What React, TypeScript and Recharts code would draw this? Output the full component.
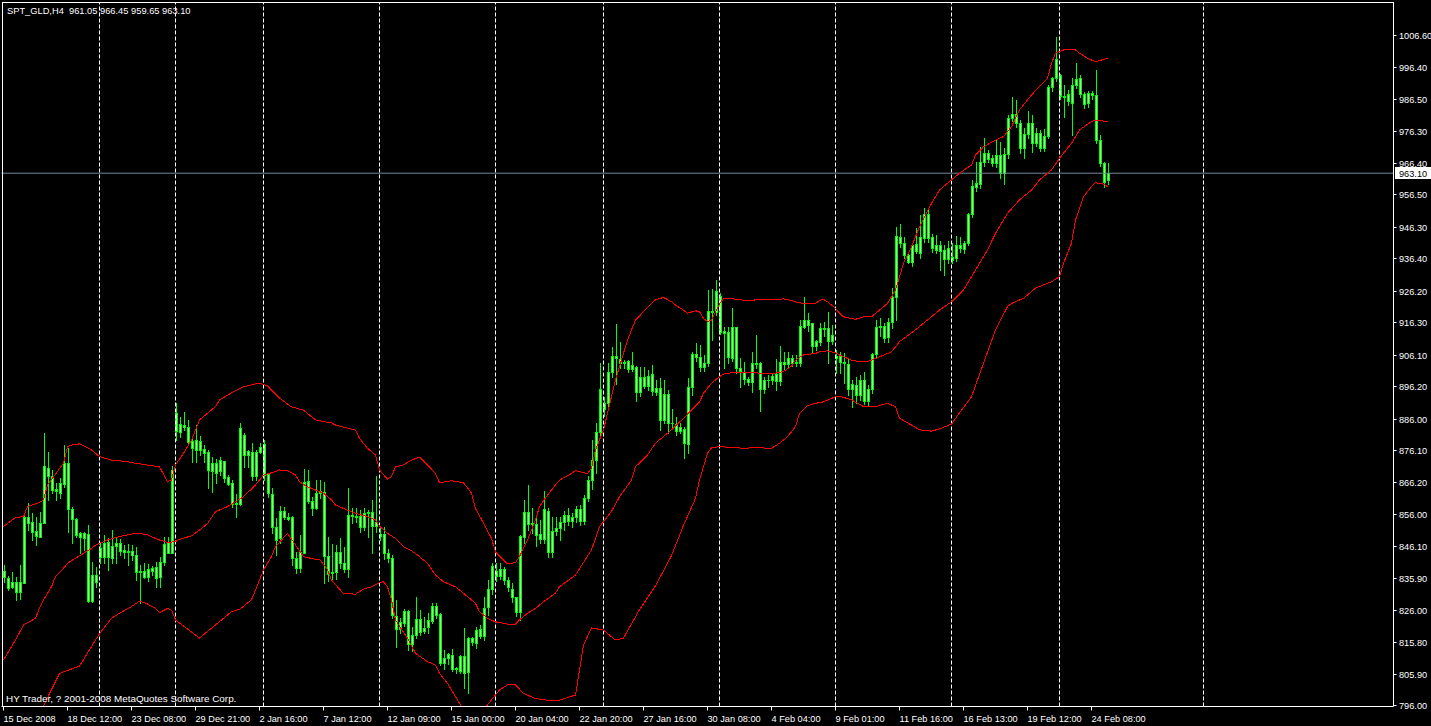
import { ComposedChart, Bar, Line, XAxis, YAxis, ReferenceLine } from 'recharts';

const symbol = 'SPT_GLD,H4';
const footer = 'HY Trader, ? 2001-2008 MetaQuotes Software Corp.';

// H4 candles, left to right
const opens = [
  838.2, 835.9, 833.0, 834.8, 831.5, 834.5, 855.2, 853.7, 850.7, 849.0,
  853.3, 870.4, 868.0, 864.0, 862.8, 865.5, 872.0, 857.5, 854.5, 849.0,
  850.0, 849.7, 828.8, 836.9, 842.7, 846.9, 842.7, 846.0, 846.1, 846.9,
  844.7, 844.2, 844.4, 843.2, 838.0, 838.3, 836.4, 838.3, 839.3, 836.4,
  840.9, 847.3, 843.9, 882.2, 884.3, 883.3, 883.5, 879.1, 876.2, 879.1,
  876.6, 875.6, 869.7, 872.0, 869.5, 872.7, 867.8, 865.7, 859.1, 859.2,
  880.9, 874.5, 875.6, 868.1, 875.4, 878.1, 868.6, 862.3, 852.1, 848.4,
  857.0, 855.2, 855.2, 842.1, 839.2, 843.9, 866.4, 860.2, 857.8, 862.6,
  863.1, 842.9, 837.4, 837.9, 844.0, 840.8, 838.7, 855.8, 855.4, 855.4,
  852.1, 856.3, 856.6, 852.4, 849.7, 849.7, 843.7, 842.4, 824.0, 819.8,
  821.9, 825.6, 815.2, 818.1, 823.1, 819.4, 820.5, 822.6, 827.2, 824.7,
  809.2, 810.7, 811.8, 807.3, 806.9, 811.5, 806.5, 817.0, 815.7, 819.8,
  817.9, 827.0, 832.4, 838.2, 836.7, 838.8, 835.3, 832.5, 829.9, 825.4,
  848.7, 856.7, 852.8, 852.8, 849.7, 848.2, 857.0, 844.2, 850.7, 851.6,
  853.5, 855.8, 853.8, 855.2, 857.5, 853.8, 861.0, 866.7, 873.0, 881.9,
  890.8, 891.0, 900.8, 905.7, 904.9, 903.4, 904.1, 901.7, 902.3, 894.5,
  899.0, 896.3, 899.9, 894.5, 895.5, 885.6, 893.6, 884.5, 884.3, 882.2,
  882.9, 877.9, 895.9, 906.2, 905.5, 902.1, 903.4, 919.9, 919.4, 924.5,
  913.5, 913.3, 905.0, 914.7, 901.8, 900.8, 898.4, 897.6, 903.4, 903.4,
  895.2, 898.2, 898.0, 900.0, 897.8, 903.7, 903.1, 905.0, 903.6, 903.4,
  914.9, 917.0, 915.9, 908.9, 910.2, 914.1, 914.4, 910.5, 905.7, 905.7,
  903.9, 903.1, 895.2, 896.6, 893.4, 898.2, 891.7, 895.2, 906.2, 914.9,
  915.1, 911.5, 916.3, 924.3, 943.2, 941.1, 937.4, 935.3, 940.8, 938.1,
  942.7, 950.3, 943.0, 939.0, 940.5, 938.9, 936.0, 936.7, 936.6, 940.5,
  939.3, 941.1, 950.2, 958.9, 959.7, 966.7, 969.3, 967.8, 966.2, 968.8,
  963.3, 969.0, 980.5, 981.6, 978.8, 970.9, 975.4, 979.0, 972.5, 975.8,
  970.9, 974.9, 990.1, 992.9, 993.9, 987.4, 987.9, 985.3, 990.8, 992.9,
  987.9, 985.1, 988.4, 987.6, 973.5, 966.4, 961.05,
];
const highs = [
  840.0, 836.6, 838.0, 836.4, 840.0, 856.3, 859.6, 856.5, 855.2, 856.8,
  881.6, 875.6, 869.9, 865.9, 867.3, 877.7, 876.7, 858.4, 854.7, 850.5,
  850.5, 852.6, 840.9, 839.5, 846.9, 849.5, 848.4, 851.0, 848.4, 848.1,
  846.3, 846.6, 846.3, 845.8, 840.0, 840.6, 840.4, 839.8, 840.9, 842.7,
  849.0, 849.0, 871.1, 890.8, 886.6, 888.1, 885.6, 880.6, 884.0, 880.6,
  877.7, 876.2, 874.1, 873.2, 873.9, 872.8, 868.3, 866.7, 862.3, 884.5,
  881.4, 876.2, 878.3, 876.2, 878.3, 879.3, 868.8, 864.1, 854.7, 858.6,
  858.2, 856.3, 855.4, 844.2, 849.5, 870.1, 869.9, 861.5, 866.7, 866.7,
  866.2, 848.9, 846.6, 846.3, 848.4, 845.8, 864.1, 857.8, 858.0, 857.3,
  857.8, 857.3, 860.5, 868.0, 852.1, 852.1, 845.0, 843.2, 829.1, 823.3,
  826.2, 825.9, 820.7, 830.1, 825.9, 823.8, 825.1, 828.2, 828.0, 825.1,
  813.4, 812.5, 813.6, 808.1, 811.8, 820.2, 817.5, 817.5, 820.7, 821.2,
  830.1, 835.3, 840.6, 840.6, 840.6, 839.5, 836.4, 834.3, 830.1, 849.5,
  860.5, 865.2, 857.8, 855.2, 854.2, 863.3, 857.8, 855.2, 855.2, 855.0,
  857.0, 858.0, 856.5, 858.5, 859.0, 862.0, 868.0, 879.3, 884.5, 903.4,
  892.9, 903.4, 908.6, 915.6, 910.2, 904.4, 904.4, 906.9, 902.5, 902.3,
  902.1, 901.3, 902.9, 898.2, 898.7, 898.2, 895.0, 889.2, 886.6, 884.5,
  883.5, 898.7, 907.0, 909.7, 909.2, 906.0, 926.4, 926.6, 929.5, 925.4,
  914.9, 914.9, 920.7, 914.9, 905.0, 903.9, 899.2, 907.0, 912.3, 903.9,
  899.2, 899.7, 900.2, 904.6, 908.8, 907.0, 907.0, 906.0, 906.0, 917.0,
  924.3, 919.1, 916.0, 910.7, 916.2, 916.5, 919.6, 915.4, 907.6, 907.0,
  906.5, 904.9, 898.2, 899.2, 899.7, 900.8, 896.6, 906.5, 917.0, 917.5,
  915.9, 917.5, 926.9, 946.3, 947.1, 943.0, 938.5, 941.1, 945.8, 950.0,
  952.1, 951.5, 944.0, 943.7, 941.9, 940.5, 941.9, 941.1, 943.4, 943.2,
  941.9, 950.7, 961.0, 966.7, 971.4, 974.0, 970.4, 968.8, 973.5, 973.0,
  970.9, 981.4, 987.1, 986.1, 979.8, 977.2, 982.7, 981.4, 977.2, 976.7,
  976.9, 990.8, 993.4, 1005.8, 994.1, 990.8, 989.2, 992.9, 997.6, 993.9,
  988.7, 988.9, 988.9, 995.5, 975.1, 966.7, 966.45,
];
const lows = [
  834.8, 832.2, 832.7, 829.1, 829.3, 834.3, 851.0, 847.9, 846.3, 849.0,
  853.1, 860.5, 862.6, 860.5, 861.0, 864.6, 850.5, 846.9, 849.0, 843.7,
  844.8, 828.5, 828.5, 833.2, 840.6, 840.6, 838.5, 840.6, 840.6, 843.2,
  842.1, 840.0, 841.6, 835.3, 828.0, 835.9, 835.1, 836.9, 833.2, 833.2,
  840.0, 843.7, 843.7, 879.3, 880.4, 882.4, 877.7, 872.5, 872.5, 874.6,
  872.5, 864.1, 863.1, 865.7, 868.3, 866.2, 865.2, 858.4, 855.2, 858.9,
  870.9, 870.9, 866.7, 866.7, 875.1, 866.7, 861.5, 850.0, 843.2, 846.9,
  854.5, 854.2, 840.0, 837.6, 837.9, 843.7, 859.5, 855.7, 857.5, 861.0,
  834.5, 835.0, 835.5, 835.5, 839.0, 838.0, 836.4, 853.1, 853.5, 850.5,
  851.0, 849.0, 843.7, 850.5, 848.0, 842.0, 841.0, 823.5, 814.2, 818.6,
  820.8, 813.3, 813.1, 817.0, 818.0, 818.6, 818.6, 821.7, 823.5, 808.6,
  807.4, 809.0, 806.7, 806.0, 806.0, 801.3, 799.9, 815.0, 813.9, 817.0,
  816.5, 824.3, 831.0, 835.1, 835.8, 834.0, 832.0, 828.5, 824.0, 822.8,
  847.0, 851.0, 850.0, 846.0, 847.0, 847.0, 842.7, 842.7, 849.5, 848.0,
  851.0, 852.5, 852.0, 853.5, 852.5, 853.0, 860.0, 864.0, 868.8, 880.0,
  887.0, 889.0, 899.0, 896.9, 901.8, 901.8, 900.8, 901.0, 891.4, 893.0,
  895.5, 895.0, 893.5, 893.5, 882.4, 884.5, 881.5, 883.5, 881.0, 881.5,
  873.5, 875.1, 893.4, 904.0, 901.0, 901.0, 902.5, 910.7, 918.5, 912.5,
  901.8, 903.5, 904.0, 900.5, 896.1, 897.0, 896.6, 894.5, 902.0, 888.5,
  894.0, 895.8, 897.0, 895.0, 896.5, 901.5, 902.0, 902.5, 902.5, 902.5,
  914.4, 913.5, 907.0, 907.6, 909.0, 912.0, 903.4, 909.5, 900.2, 900.2,
  897.1, 893.4, 889.8, 891.0, 892.0, 890.5, 890.3, 894.0, 905.0, 911.9,
  910.2, 910.2, 914.4, 917.0, 940.0, 936.5, 934.8, 934.0, 938.0, 936.4,
  941.5, 941.5, 938.5, 938.0, 932.7, 931.1, 935.0, 935.0, 935.5, 938.5,
  937.9, 940.5, 949.5, 957.5, 958.5, 965.5, 966.5, 965.5, 965.0, 961.5,
  959.7, 968.0, 979.5, 977.5, 969.5, 967.8, 974.0, 969.9, 971.5, 970.0,
  970.0, 974.0, 989.0, 992.0, 986.5, 980.6, 984.5, 975.1, 990.0, 987.0,
  983.5, 984.0, 986.5, 972.5, 965.5, 958.9, 959.65,
];
const closes = [
  836.4, 832.7, 834.8, 831.5, 834.8, 855.2, 853.3, 850.5, 849.2, 853.1,
  871.1, 868.0, 863.6, 863.2, 865.7, 872.0, 857.5, 854.4, 849.5, 850.2,
  848.6, 828.8, 836.9, 834.8, 845.5, 842.7, 847.2, 842.1, 846.9, 844.5,
  844.2, 844.5, 843.2, 838.0, 838.2, 836.4, 838.7, 839.2, 836.1, 840.9,
  846.6, 843.9, 869.9, 887.9, 881.9, 884.0, 878.8, 876.7, 879.3, 876.2,
  875.1, 869.9, 872.0, 869.0, 873.0, 867.3, 865.4, 859.2, 859.4, 883.0,
  874.6, 875.9, 868.1, 875.6, 877.2, 868.4, 862.8, 852.1, 848.0, 857.0,
  855.2, 854.6, 842.1, 839.2, 844.0, 866.2, 860.2, 857.8, 862.6, 863.3,
  842.9, 837.2, 837.9, 844.0, 840.8, 838.7, 855.8, 855.5, 855.2, 852.1,
  856.3, 856.6, 852.4, 853.4, 849.1, 843.7, 842.1, 824.3, 819.8, 822.2,
  825.6, 815.2, 818.1, 823.1, 819.1, 820.2, 822.8, 827.3, 824.3, 809.2,
  810.7, 812.1, 807.3, 807.6, 811.5, 806.2, 817.0, 815.9, 819.6, 817.9,
  826.7, 832.4, 839.7, 836.7, 838.8, 835.3, 833.2, 829.9, 825.4, 849.2,
  856.7, 852.8, 853.1, 849.5, 848.2, 857.5, 844.2, 850.7, 851.6, 853.5,
  855.8, 853.8, 855.2, 857.5, 853.8, 861.0, 866.7, 873.0, 881.9, 895.2,
  889.2, 900.8, 905.7, 905.0, 903.4, 903.9, 901.7, 902.8, 894.5, 899.0,
  896.3, 899.5, 894.7, 895.5, 885.6, 893.6, 884.5, 884.7, 882.2, 883.3,
  878.3, 895.9, 906.2, 905.5, 902.1, 903.4, 919.9, 919.4, 926.2, 913.3,
  913.0, 905.3, 914.7, 901.8, 901.1, 898.4, 897.6, 903.4, 903.1, 895.2,
  898.2, 898.0, 899.5, 897.8, 903.7, 903.1, 905.0, 903.6, 903.9, 915.1,
  917.0, 915.4, 908.9, 910.4, 914.4, 914.4, 910.5, 912.3, 905.0, 903.9,
  903.4, 895.2, 896.8, 893.4, 898.2, 891.7, 895.2, 906.2, 914.9, 915.1,
  911.2, 916.3, 924.3, 943.4, 941.1, 937.4, 935.3, 940.5, 938.8, 943.2,
  950.3, 942.7, 939.5, 940.5, 938.8, 936.0, 939.5, 935.8, 940.5, 939.5,
  941.1, 950.2, 959.1, 960.1, 966.7, 969.3, 967.7, 966.4, 968.8, 963.3,
  969.0, 980.5, 981.6, 978.8, 970.9, 975.4, 979.0, 972.5, 975.8, 970.9,
  974.8, 990.1, 992.9, 998.9, 987.4, 987.1, 985.8, 990.8, 992.6, 987.9,
  984.8, 988.4, 987.7, 973.5, 966.4, 960.4, 963.10,
];

// Bollinger bands: [bar index, price]
const upperBand: [number, number][] = [
  [0, 852.1], [3, 855.0], [5, 855.2], [6, 858.4], [9, 859.7], [10, 860.5], [11, 865.2], [15, 872.0],
  [16, 877.2], [17, 877.7], [19, 878.1], [22, 876.2], [24, 874.1], [27, 873.0], [31, 872.5], [33, 872.0],
  [39, 870.9], [41, 866.2], [42, 866.7], [43, 871.5], [45, 875.1], [47, 879.3], [49, 885.6], [53, 889.8],
  [54, 891.9], [57, 894.1], [60, 896.0], [64, 897.2], [66, 896.3], [69, 892.5], [72, 889.7], [75, 888.7],
  [78, 885.6], [80, 885.1], [82, 884.7], [83, 884.0], [86, 883.0], [88, 882.4], [89, 879.8], [91, 876.7],
  [93, 874.6], [94, 869.9], [96, 867.0], [97, 867.8], [98, 870.9], [100, 871.5], [102, 873.0], [104, 873.9],
  [106, 871.5], [108, 868.8], [109, 865.9], [112, 866.5], [115, 865.9], [117, 862.6], [118, 857.8], [120, 853.2],
  [122, 848.4], [123, 844.2], [125, 841.6], [126, 840.4], [128, 840.8], [129, 842.7], [131, 847.9], [133, 854.2],
  [134, 858.4], [136, 862.0], [138, 865.2], [139, 866.7], [142, 868.8], [143, 869.7], [145, 869.0], [146, 868.8],
  [147, 870.4], [148, 876.2], [150, 882.5], [151, 887.7], [153, 898.2], [156, 910.7], [157, 913.9], [158, 917.0],
  [160, 919.6], [162, 922.2], [163, 923.3], [165, 924.1], [167, 922.7], [168, 921.7], [170, 920.1], [171, 919.1],
  [173, 919.9], [174, 919.6], [175, 917.5], [176, 916.5], [177, 917.0], [178, 919.5], [179, 922.0], [180, 923.8],
  [182, 923.8], [183, 923.5], [186, 923.1], [188, 923.3], [192, 923.5], [195, 923.6], [197, 923.1], [198, 922.7],
  [200, 922.2], [203, 922.2], [204, 923.1], [205, 923.5], [206, 922.7], [208, 920.7], [209, 919.1], [210, 918.0],
  [213, 917.2], [215, 918.0], [217, 918.0], [219, 920.1], [221, 922.2], [223, 926.4], [224, 930.6], [225, 934.8],
  [227, 940.0], [229, 946.3], [232, 953.6], [234, 957.8], [237, 961.0], [239, 963.1], [242, 965.7], [243, 968.8],
  [245, 971.4], [248, 973.5], [250, 974.6], [252, 977.7], [254, 983.0], [257, 987.7], [259, 990.3], [261, 992.9],
  [262, 997.6], [263, 1000.8], [265, 1001.8], [268, 1001.8], [269, 1000.8], [271, 999.2], [273, 998.1], [276, 999.2],
];
const middleBand: [number, number][] = [
  [0, 810.2], [3, 816.5], [5, 821.2], [8, 823.3], [9, 826.5], [10, 829.1], [12, 833.2], [13, 836.4],
  [15, 839.0], [16, 840.6], [18, 842.2], [20, 843.7], [22, 845.3], [23, 846.3], [26, 847.9], [28, 848.7],
  [31, 849.5], [33, 850.0], [34, 850.0], [36, 849.5], [38, 848.4], [39, 847.9], [41, 847.1], [43, 847.4],
  [44, 848.1], [47, 849.2], [49, 851.0], [51, 853.1], [53, 856.8], [56, 858.4], [58, 859.9], [60, 861.5],
  [63, 865.2], [65, 868.3], [68, 869.4], [69, 869.9], [71, 869.7], [73, 868.3], [74, 866.2], [76, 864.6],
  [78, 863.6], [80, 862.6], [82, 860.5], [83, 858.9], [86, 857.3], [88, 856.3], [91, 855.2], [93, 854.2],
  [94, 852.3], [96, 850.0], [98, 848.4], [100, 845.8], [102, 844.5], [103, 843.7], [106, 840.6], [108, 836.9],
  [110, 834.8], [113, 833.2], [115, 831.2], [118, 828.0], [119, 825.4], [121, 823.3], [123, 822.2], [126, 821.5],
  [128, 821.5], [129, 822.8], [131, 824.9], [133, 826.4], [135, 828.5], [138, 831.2], [139, 833.2], [143, 836.9],
  [147, 844.8], [149, 852.0], [152, 856.9], [154, 861.5], [157, 866.7], [158, 870.9], [161, 874.6], [163, 878.3],
  [167, 882.5], [170, 886.1], [172, 888.7], [174, 891.3], [175, 894.0], [177, 897.1], [179, 899.2], [180, 900.0],
  [182, 900.4], [187, 900.4], [190, 900.3], [193, 900.3], [195, 900.8], [197, 902.5], [198, 904.4], [200, 906.0],
  [203, 906.5], [204, 907.0], [206, 907.3], [208, 906.7], [209, 906.0], [212, 904.4], [214, 903.9], [216, 903.9],
  [218, 904.9], [222, 907.0], [224, 910.2], [228, 913.9], [231, 917.0], [234, 920.1], [237, 922.7], [240, 926.4],
  [243, 932.7], [246, 939.0], [248, 944.2], [251, 950.5], [254, 954.7], [257, 957.8], [259, 961.0], [262, 964.1],
  [264, 967.8], [267, 972.5], [269, 976.7], [272, 979.3], [273, 979.8], [276, 979.3],
];
const lowerBand: [number, number][] = [
  [9, 793.3], [14, 806.0], [19, 808.3], [24, 818.5], [27, 823.3], [29, 824.9], [32, 827.0], [34, 828.7],
  [36, 827.8], [38, 826.4], [39, 825.1], [41, 826.4], [42, 825.9], [43, 822.8], [49, 817.1], [55, 823.3],
  [57, 825.4], [59, 826.1], [62, 829.1], [63, 832.2], [65, 838.5], [67, 842.7], [68, 845.8], [71, 850.0],
  [75, 842.7], [78, 841.8], [79, 841.8], [81, 838.7], [82, 835.3], [85, 831.1], [88, 830.9], [90, 832.5],
  [92, 833.2], [94, 834.5], [95, 834.8], [96, 833.2], [97, 829.1], [98, 822.8], [101, 817.0], [103, 812.3],
  [106, 809.7], [108, 808.6], [109, 806.0], [111, 802.9], [113, 798.7], [116, 792.5], [119, 793.0], [122, 797.7],
  [124, 800.8], [126, 802.4], [128, 802.4], [130, 799.7], [133, 798.1], [136, 797.6], [139, 797.6], [143, 799.2],
  [145, 814.9], [147, 820.3], [150, 819.6], [153, 816.5], [155, 817.1], [159, 826.0], [163, 833.5], [167, 843.0],
  [170, 852.5], [173, 861.0], [174, 866.7], [175, 870.9], [176, 875.1], [177, 876.9], [179, 877.2], [182, 877.0],
  [185, 876.7], [188, 876.9], [192, 876.7], [194, 878.3], [196, 880.3], [198, 883.5], [199, 887.7], [201, 890.1],
  [203, 890.8], [205, 891.3], [208, 892.9], [209, 893.1], [212, 891.9], [215, 889.8], [218, 889.8], [221, 890.8],
  [223, 889.8], [224, 886.1], [227, 884.0], [229, 882.5], [232, 882.1], [234, 882.8], [237, 884.3], [238, 886.1],
  [242, 892.9], [245, 903.4], [248, 913.9], [251, 921.2], [252, 922.2], [255, 923.8], [258, 927.0], [262, 929.0],
  [264, 930.6], [265, 934.8], [267, 941.1], [268, 948.4], [270, 955.7], [272, 958.9], [273, 960.1], [275, 959.7],
  [276, 958.9],
];

const xTickIdx = [0, 16, 32, 48, 64, 80, 96, 112, 128, 144, 160, 176, 192, 208, 224, 240, 256, 272];
const xTickLabels = [
  '15 Dec 2008', '18 Dec 12:00', '23 Dec 08:00', '29 Dec 21:00', '2 Jan 16:00', '7 Jan 12:00',
  '12 Jan 09:00', '15 Jan 00:00', '20 Jan 04:00', '22 Jan 20:00', '27 Jan 16:00', '30 Jan 08:00',
  '4 Feb 04:00', '9 Feb 01:00', '11 Feb 16:00', '16 Feb 13:00', '19 Feb 12:00', '24 Feb 08:00',
];
const yTicks = [
  1006.6, 996.4, 986.5, 976.3, 966.4, 956.5, 946.3, 936.4, 926.2, 916.3, 906.1,
  896.2, 886.0, 876.1, 866.2, 856.0, 846.1, 835.9, 826.0, 815.8, 805.9, 796.0,
];
const gridIdx = [24, 43, 65, 94, 123, 150, 179, 208, 237, 264, 300];
const totalSlots = 348; // candles plus the empty shift on the right

const GREEN = '#00ff00';
const BODY = '#9cff9c';
const FONT = "'Liberation Sans', Arial, sans-serif";

const toMap = (arr: [number, number][]) => new Map(arr);
const upMap = toMap(upperBand);
const midMap = toMap(middleBand);
const lowMap = toMap(lowerBand);

const data = Array.from({ length: totalSlots }, (_, i) => {
  const has = i < opens.length;
  return {
    i,
    range: has ? [lows[i], highs[i]] : null,
    o: has ? opens[i] : null,
    h: has ? highs[i] : null,
    l: has ? lows[i] : null,
    c: has ? closes[i] : null,
    upper: upMap.get(i) ?? null,
    middle: midMap.get(i) ?? null,
    lower: lowMap.get(i) ?? null,
  };
});

const last = opens.length - 1;
const lastClose = closes[last];

const Candle = (props: any) => {
  const { x, y, width, height, payload } = props;
  if (!payload || payload.o == null) return null;
  const { o, h, l, c } = payload;
  const top = Math.min(y, y + height);
  const bot = Math.max(y, y + height);
  const span = h - l;
  const py = (v: number) => (span > 0 ? top + ((h - v) / span) * (bot - top) : top);
  const cx = Math.floor(x + width / 2) + 0.5;
  const bTop = Math.round(py(Math.max(o, c))) + 0.5;
  const bBot = Math.round(py(Math.min(o, c))) + 0.5;
  return (
    <g>
      <line x1={cx} x2={cx} y1={Math.round(top)} y2={Math.round(bot) + 1} stroke={GREEN} />
      {bBot - bTop < 1 ? (
        <line x1={cx - 1.5} x2={cx + 1.5} y1={bTop} y2={bTop} stroke={GREEN} />
      ) : (
        <rect x={cx - 1} y={bTop} width={2} height={bBot - bTop} fill={BODY} stroke={GREEN} />
      )}
    </g>
  );
};

const XTick = (props: any) => {
  const { x, y, payload } = props;
  const k = xTickIdx.indexOf(payload.value);
  const px = Math.floor(x) + 0.5;
  return (
    <g>
      <line x1={px} x2={px} y1={y} y2={y + 4} stroke="#fff" />
      <text x={px} y={y + 15} fill="#fff" fontSize={9.2} fontFamily={FONT} textAnchor="start">
        {xTickLabels[k]}
      </text>
    </g>
  );
};

const YTick = (props: any) => {
  const { x, y, payload } = props;
  const py = Math.round(y) + 0.5;
  return (
    <g>
      <line x1={x} x2={x + 3} y1={py} y2={py} stroke="#fff" />
      <text x={x + 5.5} y={py + 3.3} fill="#fff" fontSize={9.2} fontFamily={FONT} textAnchor="start">
        {Number(payload.value).toFixed(2)}
      </text>
    </g>
  );
};

const BidLabel = (props: any) => {
  const vb = props.viewBox || {};
  const x0 = (vb.x ?? 0) + (vb.width ?? 0) + 1.5;
  const yy = Math.round(vb.y ?? 0);
  return (
    <g>
      <rect x={x0} y={yy - 6} width={40} height={12} fill="#fff" />
      <text x={x0 + 4} y={yy + 3.5} fill="#000" fontSize={9.2} fontFamily={FONT}>
        {lastClose.toFixed(2)}
      </text>
    </g>
  );
};

export default function App() {
  return (
    <div style={{ position: 'absolute', left: 0, top: 0, width: 1431, height: 726, background: '#000', overflow: 'hidden' }}>
      <style>{'.recharts-line-curve{shape-rendering:crispEdges}'}</style>
      <ComposedChart
        width={1431}
        height={726}
        data={data}
        margin={{ top: 2.5, right: 0, bottom: 0, left: 1.5 }}
        barCategoryGap={0}
      >
        <XAxis
          dataKey="i"
          type="category"
          ticks={xTickIdx}
          interval={0}
          tickLine={false}
          tickSize={0}
          tickMargin={0}
          height={19.5}
          axisLine={{ stroke: '#fff' }}
          tick={<XTick />}
        />
        <YAxis
          orientation="right"
          type="number"
          domain={[795.61, 1016.71]}
          allowDataOverflow
          ticks={yTicks}
          interval={0}
          width={37.5}
          tickLine={false}
          tickSize={0}
          tickMargin={0}
          axisLine={{ stroke: '#fff' }}
          tick={<YTick />}
        />
        {gridIdx.map((g) => (
          <ReferenceLine key={g} x={g} stroke="#fff" strokeDasharray="4 2" />
        ))}
        <ReferenceLine y={lastClose} stroke="#778899" label={<BidLabel />} />
        <Bar dataKey="range" barSize={3} shape={<Candle />} isAnimationActive={false} />
        <Line type="linear" dataKey="upper" stroke="#ff0000" strokeWidth={1} dot={false} connectNulls isAnimationActive={false} />
        <Line type="linear" dataKey="middle" stroke="#ff0000" strokeWidth={1} dot={false} connectNulls isAnimationActive={false} />
        <Line type="linear" dataKey="lower" stroke="#ff0000" strokeWidth={1} dot={false} connectNulls isAnimationActive={false} />
      </ComposedChart>
      <div style={{ position: 'absolute', left: 2, top: 2, width: 1391, height: 704, borderLeft: '1px solid #fff', borderTop: '1px solid #fff', pointerEvents: 'none' }} />
      <div style={{ position: 'absolute', left: 7, top: 5, color: '#fff', fontFamily: FONT, fontSize: 9.3, lineHeight: '12px', whiteSpace: 'pre' }}>
        {`${symbol}  ${opens[last].toFixed(2)} ${highs[last].toFixed(2)} ${lows[last].toFixed(2)} ${closes[last].toFixed(2)}`}
      </div>
      <div style={{ position: 'absolute', left: 6, top: 693, color: '#fff', fontFamily: FONT, fontSize: 9.9, lineHeight: '12px', whiteSpace: 'pre' }}>
        {footer}
      </div>
    </div>
  );
}
